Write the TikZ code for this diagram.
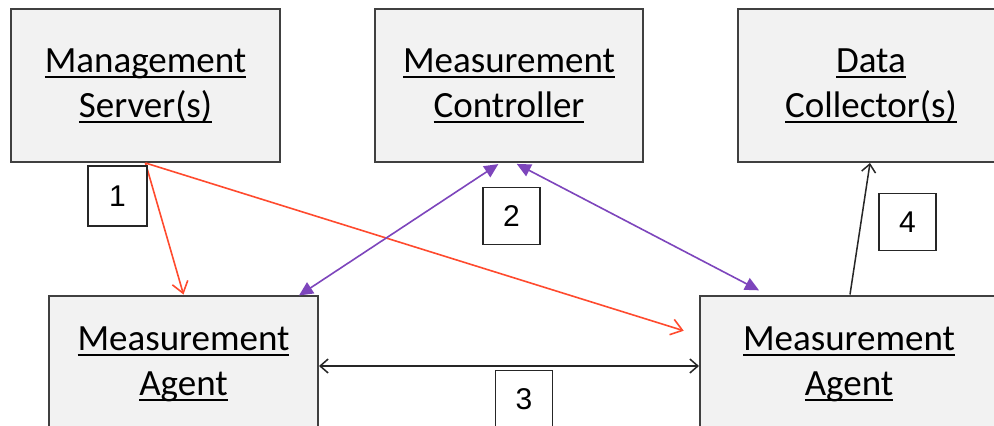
\documentclass[tikz,border=0pt]{standalone}
\usepackage{fontspec}
\setmainfont{Carlito}
\newfontfamily\numfont{Liberation Sans}
\usepackage{tikz}
\usetikzlibrary{arrows.meta,calc,positioning}
\newcommand{\ulabel}[1]{\setbox0\hbox{#1}\rlap{\rule[-5.5pt]{\wd0}{1.6pt}}\box0}
\definecolor{boxgray}{HTML}{F2F2F2}
\definecolor{edgegray}{HTML}{404040}
\definecolor{redline}{HTML}{FF4A2E}
\definecolor{purpline}{HTML}{7D45BC}
\tikzset{
x=1pt, y=-1pt, % pixel like units
entity/.style={draw=edgegray, line width=2pt, fill=boxgray, align=center,
  font=\fontsize{37}{45}\selectfont, inner sep=0pt}, % the grey boxes
step tag/.style={draw=black!85, line width=1.7pt, fill=white, inner sep=0pt,
  minimum width=57pt, minimum height=57pt, font=\numfont\fontsize{30}{30}\selectfont}, % the number boxes
redarrow/.style={draw=redline, line width=1.6pt, -{Straight Barb[length=11pt,width=16pt,line width=1.6pt]}},
purparrow/.style={draw=purpline, line width=1.6pt, {Triangle[length=14pt,width=13pt]}-{Triangle[length=14pt,width=13pt]}},
blackarrow/.style={draw=black!85, line width=1.5pt},
}
\begin{document}
\begin{tikzpicture}
   \useasboundingbox (0,0) rectangle (994,426);
   \fill[white] (0,0) rectangle (994,426);
   \clip (0,0) rectangle (994,426);
   % top row
   \node[entity, minimum width=269pt, minimum height=153pt] (ms) at (145.5,85.5)
      {\ulabel{Management}\\\ulabel{Server(s)}};
   \node[entity, minimum width=268pt, minimum height=153pt] (mc) at (509,85.5)
      {\ulabel{Measurement}\\\ulabel{Controller}};
   \node[entity, minimum width=266pt, minimum height=153pt] (dc) at (871,85.5)
      {\ulabel{Data}\\\ulabel{Collector(s)}};
   % bottom row
   \node[entity, minimum width=269pt, minimum height=137pt] (agl) at (183.5,364)
      {\ulabel{Measurement}\\\ulabel{Agent}};
   \node[entity, minimum width=298pt, minimum height=137pt] (agr) at (849,364)
      {\ulabel{Measurement}\\\ulabel{Agent}};
   % connectors
   \path[redarrow] (ms.south) -- (agl.north);
   \path[redarrow, shorten >=16pt] (ms.south) -- ($(agr.north west)+(0,41)$);
   \path[purparrow, shorten <=2pt] ([xshift=-9pt]mc.south) -- ([xshift=-20pt,yshift=-1pt]agl.north east);
   \path[purparrow, shorten <=2pt, shorten >=9pt] ([xshift=6pt]mc.south) -- ([xshift=-82pt]agr.north);
   \path[blackarrow, {Straight Barb[length=8pt,width=14pt,line width=1.5pt]}-{Straight Barb[length=8pt,width=14pt,line width=1.5pt]}]
      ([yshift=-2pt]agl.east) -- ([yshift=-2pt]agr.west);
   \path[blackarrow, -{Straight Barb[length=8pt,width=14pt,line width=1.5pt]}]
      ([xshift=1pt]agr.north) -- ([xshift=-1pt]dc.south);
   % step numbers
   \node[step tag, minimum width=59pt, minimum height=60pt] (s1) at (117.5,196) {1};
   \node[step tag] (s2) at (511.5,216) {2};
   \node[step tag] (s3) at (524,399) {3};
   \node[step tag] (s4) at (907.5,222) {4};
\end{tikzpicture}
\end{document}
